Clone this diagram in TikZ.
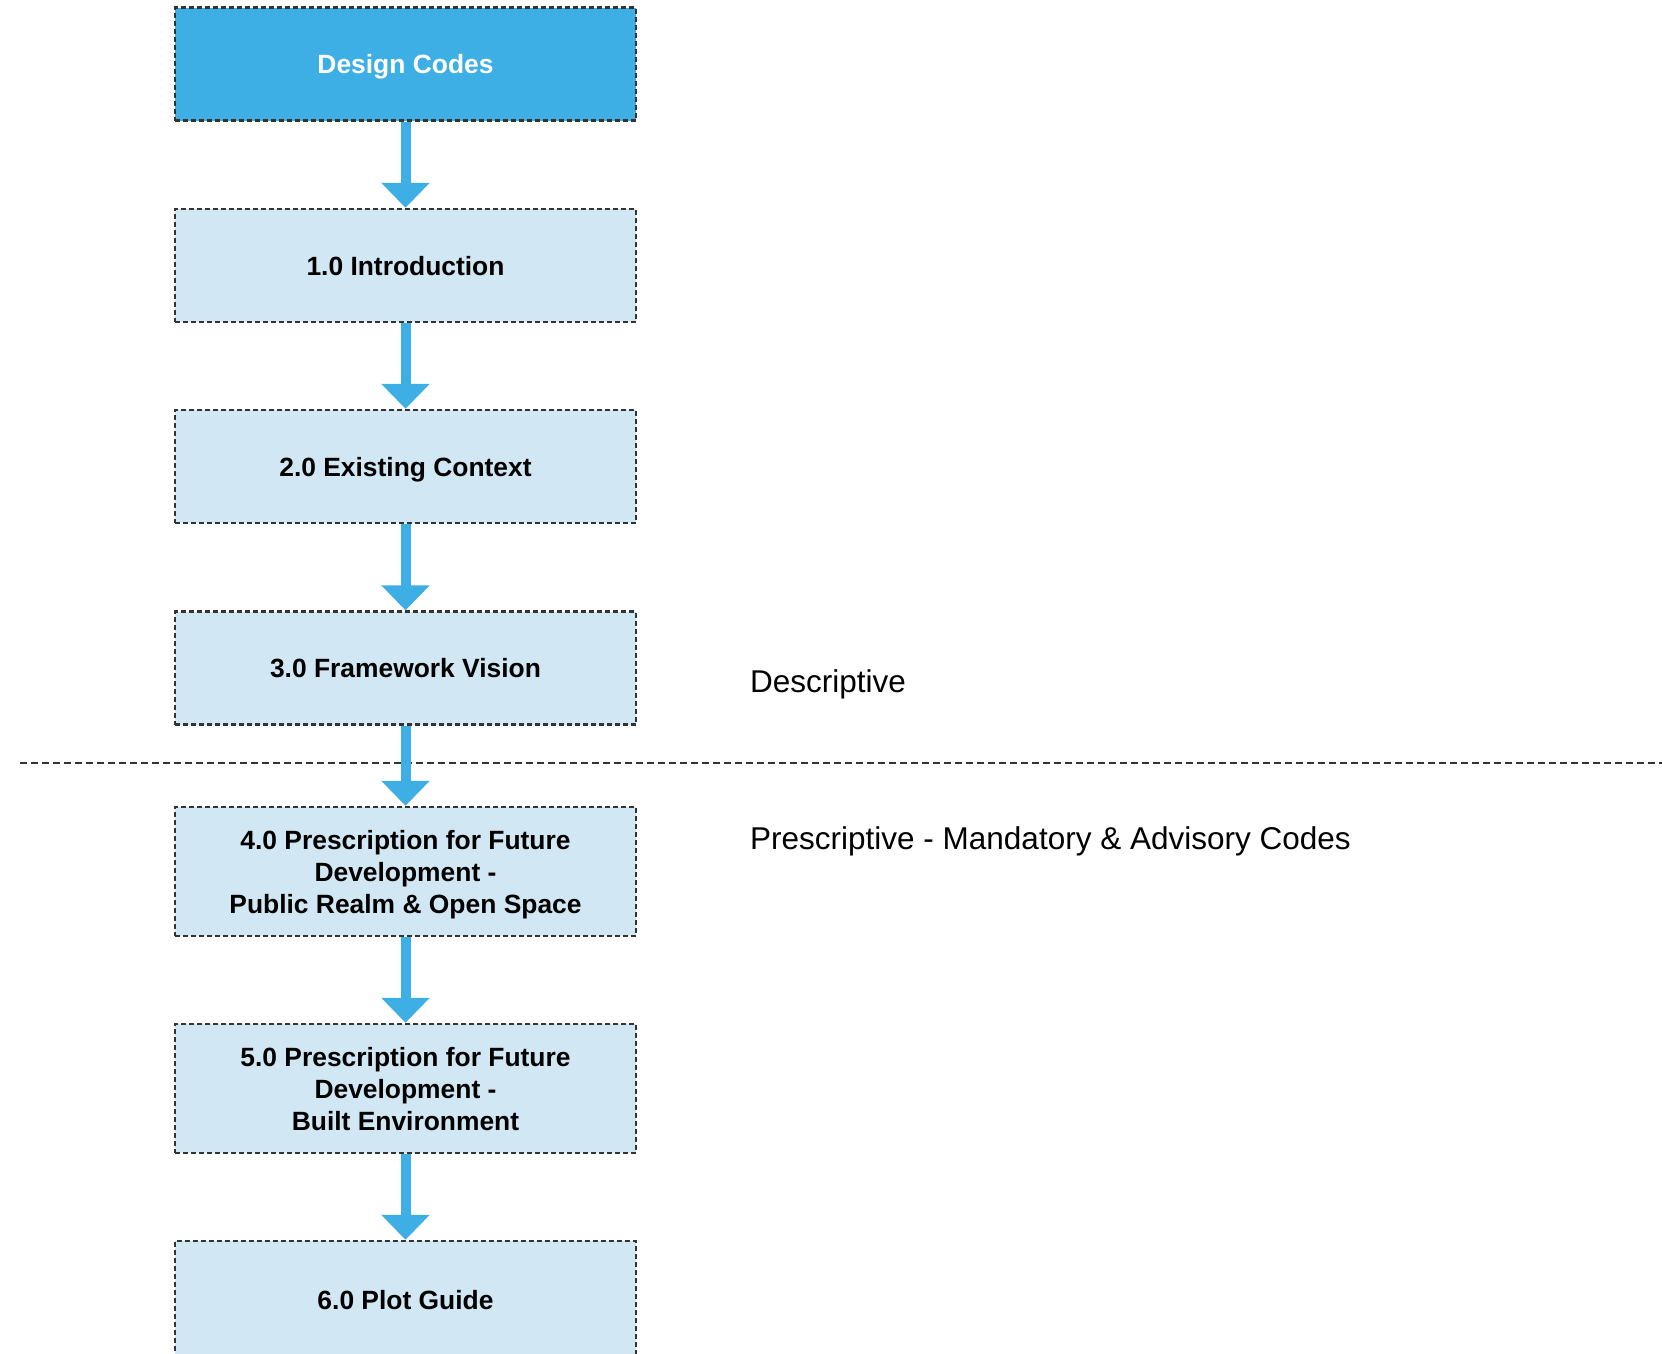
\documentclass[tikz,border=0pt]{standalone}
\usepackage{fontspec}
\setmainfont{Liberation Sans}
\usetikzlibrary{arrows.meta}
\definecolor{dblue}{HTML}{3EAFE4}
\definecolor{lblue}{HTML}{D1E8F4}
\definecolor{bord}{HTML}{333333}
\tikzset{
  box/.style={draw=bord, line width=2.4pt, dash pattern=on 5pt off 3pt, fill=lblue,
    minimum width=461pt, minimum height=113pt, inner sep=0pt, align=center,
    text depth=0pt,
    font=\fontsize{26.4}{32}\selectfont\bfseries, text=black},
  tallbox/.style={box, minimum height=129pt},
  lastbox/.style={box, minimum height=117pt},
  topbox/.style={box, fill=dblue, text=white},
  flow/.style={draw=dblue, line width=10pt, -{Triangle[length=25pt, width=47pt]}},
  divider/.style={draw=bord, line width=2.2pt, dash pattern=on 7pt off 4pt},
  sidelabel/.style={anchor=base west, inner sep=0pt, font=\fontsize{31.5}{36}\selectfont, text=black}
}
\begin{document}
\begin{tikzpicture}[x=1pt,y=-1pt]
\useasboundingbox (0,0) rectangle (1662,1353);
\coordinate (dl) at (20,763);
\coordinate (dr) at (1662,763);
\draw[divider] (dl) -- (dr);

\node[topbox] (dc) at (405.5,64) {Design Codes};
\node[box] (n1) at (405.5,265.5) {1.0 Introduction};
\node[box] (n2) at (405.5,466.5) {2.0 Existing Context};
\node[box] (n3) at (405.5,668) {3.0 Framework Vision};
\node[tallbox] (n4) at (405.5,871.5) {4.0 Prescription for Future\\Development -\\Public Realm \& Open Space};
\node[tallbox] (n5) at (405.5,1088.5) {5.0 Prescription for Future\\Development -\\Built Environment};
\node[lastbox] (n6) at (405.5,1299.5) {6.0 Plot Guide};

\draw[flow] (dc.south) -- (n1.north);
\draw[flow] (n1.south) -- (n2.north);
\draw[flow] (n2.south) -- (n3.north);
\draw[flow] (n3.south) -- (n4.north);
\draw[flow] (n4.south) -- (n5.north);
\draw[flow] (n5.south) -- (n6.north);

\node[sidelabel] (desc) at (750,692.7) {Descriptive};
\node[sidelabel] (pres) at (750,849) {Prescriptive - Mandatory \& Advisory Codes};
\end{tikzpicture}
\end{document}
